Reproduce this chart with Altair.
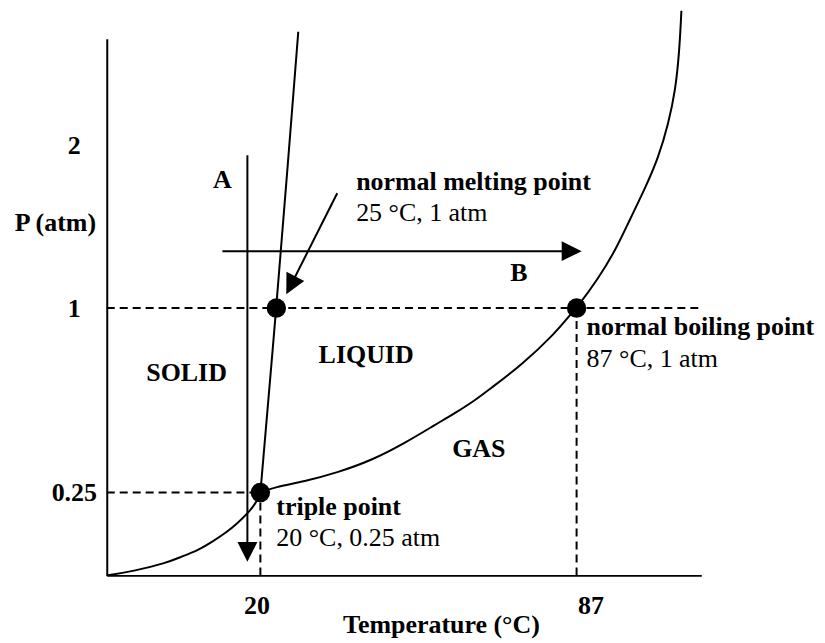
import altair as alt
import pandas as pd

FONT = "Liberation Serif"

# schematic (non-linear) axes: anchors of the temperature and pressure scales
t_domain = [0, 20, 87, 113.4]
t_range = [0, 154, 471, 596]
p_domain = [0, 0.25, 1, 2, 2.656]
p_range = [538, 455, 270, 107, 0]

x_ticks = [20, 87]
y_ticks = [0.25, 1, 2]

# phase boundaries (T in °C, P in atm)
sub_T = [0, 3.38, 7.79, 9.48, 12.08, 13.77, 15.58, 16.88, 18.57, 19.48, 20]
sub_P = [0, 0.012, 0.038, 0.054, 0.078, 0.102, 0.130, 0.154, 0.193, 0.220, 0.25]

melt_T = [20, 23.38, 25.71, 28.03]
melt_P = [0.25, 1, 1.847, 2.699]

vap_T = [20, 22.96, 29.30, 36.27, 43.46, 50.44, 57.41, 61.00, 65.65, 68.40, 75.38,
         82.56, 85.94, 87, 91.65, 95.24, 98.41, 101.58, 104.33, 106.44, 107.92,
         108.77, 109.19]
vap_P = [0.25, 0.272, 0.295, 0.331, 0.380, 0.449, 0.530, 0.570, 0.627, 0.668, 0.769,
         0.899, 0.980, 1, 1.184, 1.356, 1.552, 1.742, 1.926, 2.135, 2.337,
         2.583, 2.828]

# marked points: triple, normal melting, normal boiling
pt_T = [20, 23.38, 87]
pt_P = [0.25, 1, 1]

# dashed guide lines
dash_T = [0, 0, 20, 87]
dash_T2 = [113.4, 20, 20, 87]
dash_P = [1, 0.25, 0, 0]
dash_P2 = [1, 0.25, 0.25, 1]

# arrows: shafts and heads
arr_T = [18.31, 15.06, 36.28]
arr_T2 = [18.31, 85.96, 26.45]
arr_P = [1.939, 1.350, 1.706]
arr_P2 = [0.071, 1.350, 1.140]
head_angle = [90, 0, 117]

# annotations
bold_text = ["A", "normal melting point", "B", "SOLID", "LIQUID", "GAS",
             "triple point", "normal boiling point"]
bold_T = [15.06, 40.29, 74.75, 10.39, 42.41, 66.29, 23.38, 89.12]
bold_P = [1.785, 1.773, 1.215, 0.736, 0.809, 0.428, 0.205, 0.923]
bold_align = ["center", "left", "center", "center", "center", "center", "left", "left"]

reg_text = ["25 °C, 1 atm", "20 °C, 0.25 atm", "87 °C, 1 atm"]
reg_T = [40.29, 23.38, 89.12]
reg_P = [1.583, 0.114, 0.793]

xs = alt.Scale(domain=t_domain, range=t_range, nice=False, zero=False)
ys = alt.Scale(domain=p_domain, range=p_range, nice=False, zero=False)

xaxis = alt.Axis(
    values=x_ticks, labelExpr="toString(datum.value)", title="Temperature (°C)",
    grid=False, ticks=False, tickSize=0,
    domainColor="black", domainWidth=2,
    labelFont=FONT, labelFontSize=26, labelFontWeight="bold", labelColor="black",
    labelPadding=30, labelBaseline="middle", labelAlign="center",
    labelOffset={"condition": {"test": "datum.value === 87", "value": 14}, "value": -4},
    labelFlush=False, labelOverlap=False,
    titleFont=FONT, titleFontSize=26, titleFontWeight="bold", titleColor="black",
    titleX=335, titleY=49, titleAlign="center", titleBaseline="middle",
)
yaxis = alt.Axis(
    values=y_ticks, labelExpr="toString(datum.value)", title="P (atm)",
    grid=False, ticks=False, tickSize=0,
    domainColor="black", domainWidth=2,
    labelFont=FONT, labelFontSize=26, labelFontWeight="bold", labelColor="black",
    labelPadding=33, labelBaseline="middle", labelAlign="center",
    labelFlush=False, labelOverlap=False,
    titleFont=FONT, titleFontSize=26, titleFontWeight="bold", titleColor="black",
    titleAngle=0, titleX=-52, titleY=184, titleAlign="center", titleBaseline="middle",
)

X = alt.X("T:Q", scale=xs, axis=xaxis)
Y = alt.Y("P:Q", scale=ys, axis=yaxis)

curves = pd.concat([
    pd.DataFrame({"T": sub_T, "P": sub_P, "curve": "sub"}),
    pd.DataFrame({"T": melt_T, "P": melt_P, "curve": "melt"}),
    pd.DataFrame({"T": vap_T, "P": vap_P, "curve": "vap"}),
], ignore_index=True)
curves["order"] = range(len(curves))

dashes = pd.DataFrame({"T": dash_T, "T2": dash_T2, "P": dash_P, "P2": dash_P2})
arrows = pd.DataFrame({"T": arr_T, "T2": arr_T2, "P": arr_P, "P2": arr_P2})
heads = pd.DataFrame({"T": arr_T2, "P": arr_P2, "angle": head_angle})
points = pd.DataFrame({"T": pt_T, "P": pt_P})
bold_df = pd.DataFrame({"T": bold_T, "P": bold_P, "text": bold_text, "align": bold_align})
reg_df = pd.DataFrame({"T": reg_T, "P": reg_P, "text": reg_text})

dash_layer = alt.Chart(dashes).mark_rule(color="black", strokeWidth=2, strokeDash=[8, 5]).encode(
    x=X, x2="T2:Q", y=Y, y2="P2:Q")

curve_layer = alt.Chart(curves).mark_line(color="black", strokeWidth=2, interpolate="basis").encode(
    x=X, y=Y, detail="curve:N", order="order:Q")

arrow_layer = alt.Chart(arrows).mark_rule(color="black", strokeWidth=2).encode(
    x=X, x2="T2:Q", y=Y, y2="P2:Q")

head_layer = alt.Chart(heads).mark_point(
    shape="M-1,-1L1,0L-1,1Z", filled=True, size=400, color="black", opacity=1, strokeWidth=0
).encode(x=X, y=Y, angle=alt.Angle("angle:Q", scale=None))

point_layer = alt.Chart(points).mark_circle(size=380, color="black", opacity=1).encode(x=X, y=Y)

bold_center = alt.Chart(bold_df[bold_df["align"] == "center"]).mark_text(
    font=FONT, fontSize=26, fontWeight="bold", color="black", align="center", baseline="middle"
).encode(x=X, y=Y, text="text:N")

bold_left = alt.Chart(bold_df[bold_df["align"] == "left"]).mark_text(
    font=FONT, fontSize=26, fontWeight="bold", color="black", align="left", baseline="middle"
).encode(x=X, y=Y, text="text:N")

reg_layer = alt.Chart(reg_df).mark_text(
    font=FONT, fontSize=26, fontWeight="normal", color="black", align="left", baseline="middle"
).encode(x=X, y=Y, text="text:N")

chart = alt.layer(
    dash_layer, curve_layer, arrow_layer, head_layer, point_layer,
    bold_center, bold_left, reg_layer
).properties(
    width=596, height=538,
    autosize=alt.AutoSizeParams(type="none"),
    padding={"left": 99, "top": 30, "right": 116, "bottom": 63},
    background="white",
).configure_view(stroke=None)

chart.save("out.html", embed_options={"renderer": "svg", "actions": False})
